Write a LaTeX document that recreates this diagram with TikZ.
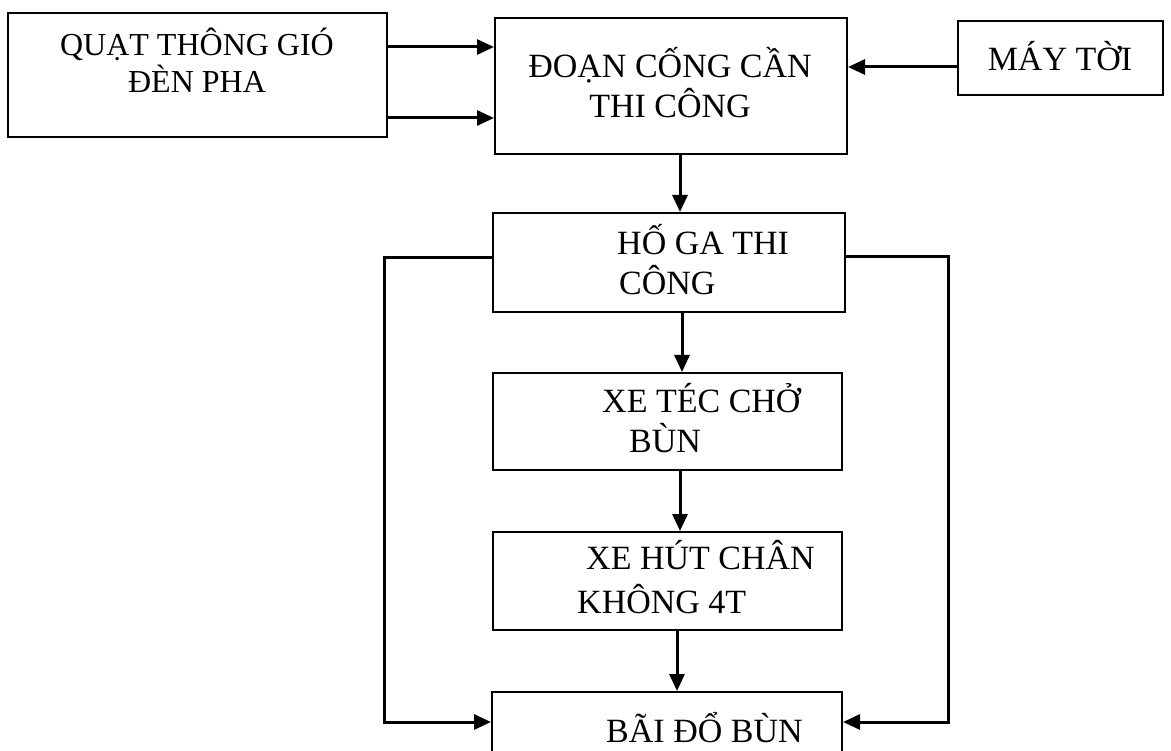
\documentclass[tikz,border=0pt]{standalone}
\usepackage{fontspec}
\setmainfont{Liberation Serif}
\usetikzlibrary{arrows.meta}

\begin{document}
\begin{tikzpicture}[x=1pt,y=-1pt,
    box/.style={draw,line width=2pt,inner sep=0pt},
    txt/.style={inner sep=0pt,font=\fontsize{34}{40}\selectfont},
    arr/.style={line width=3pt,-{Triangle[length=17pt,width=15pt]}}]
    \useasboundingbox (0,0) rectangle (1171,751);
    \clip (0,0) rectangle (1171,751);
    % khung
    \node[box,minimum width=379pt,minimum height=124pt] (quat) at (197.5,75) {};
    \node[box,minimum width=352pt,minimum height=136pt] (doan) at (671,86) {};
    \node[box,minimum width=205pt,minimum height=74pt] (may) at (1060.5,58) {};
    \node[box,minimum width=352pt,minimum height=99pt] (hoga) at (669,262.5) {};
    \node[box,minimum width=349pt,minimum height=97pt] (xetec) at (667.5,421.5) {};
    \node[box,minimum width=349pt,minimum height=98pt] (xehut) at (667.5,581) {};
    \node[box,minimum width=350pt,minimum height=80pt] (baido) at (667,732) {};
    % chu
    \node[txt,anchor=base,font=\fontsize{32}{38}\selectfont] (quat1) at (197,56) {QUẠT THÔNG GIÓ};
    \node[txt,anchor=base,font=\fontsize{32}{38}\selectfont] (quat2) at (197,93) {ĐÈN PHA};
    \node[txt,anchor=base] (doan1) at (670,78) {ĐOẠN CỐNG CẦN};
    \node[txt,anchor=base] (doan2) at (670,118) {THI CÔNG};
    \node[txt,anchor=base] (may1) at (1060,71) {MÁY TỜI};
    \node[txt,anchor=base west] (hoga1) at (617,255) {HỐ GA THI};
    \node[txt,anchor=base west] (hoga2) at (619,295) {CÔNG};
    \node[txt,anchor=base west] (xetec1) at (602,413) {XE TÉC CHỞ};
    \node[txt,anchor=base west] (xetec2) at (629,453) {BÙN};
    \node[txt,anchor=base west] (xehut1) at (586,569) {XE HÚT CHÂN};
    \node[txt,anchor=base west] (xehut2) at (577,613) {KHÔNG 4T};
    \node[txt,anchor=base west] (baido1) at (606,742) {BÃI ĐỔ BÙN};
    % mui ten
    \coordinate (lft) at (384,258);
    \coordinate (rgt) at (948,257);
    \draw[arr] (quat.east |- 0,47) -- (doan.west |- 0,47);
    \draw[arr] (quat.east |- 0,118) -- (doan.west |- 0,118);
    \draw[arr] (may.west |- 0,67) -- (doan.east |- 0,67);
    \draw[arr] (doan.south -| 680,0) -- (hoga.north -| 680,0);
    \draw[arr] (hoga.south -| 682,0) -- (xetec.north -| 682,0);
    \draw[arr] (xetec.south -| 680,0) -- (xehut.north -| 680,0);
    \draw[arr] (xehut.south -| 677,0) -- (baido.north -| 677,0);
    \draw[arr] (hoga.west |- lft) -- (lft) |- ([yshift=10pt]baido.west);
    \draw[arr] (hoga.east |- rgt) -- (rgt) |- ([yshift=10pt]baido.east);
\end{tikzpicture}
\end{document}
